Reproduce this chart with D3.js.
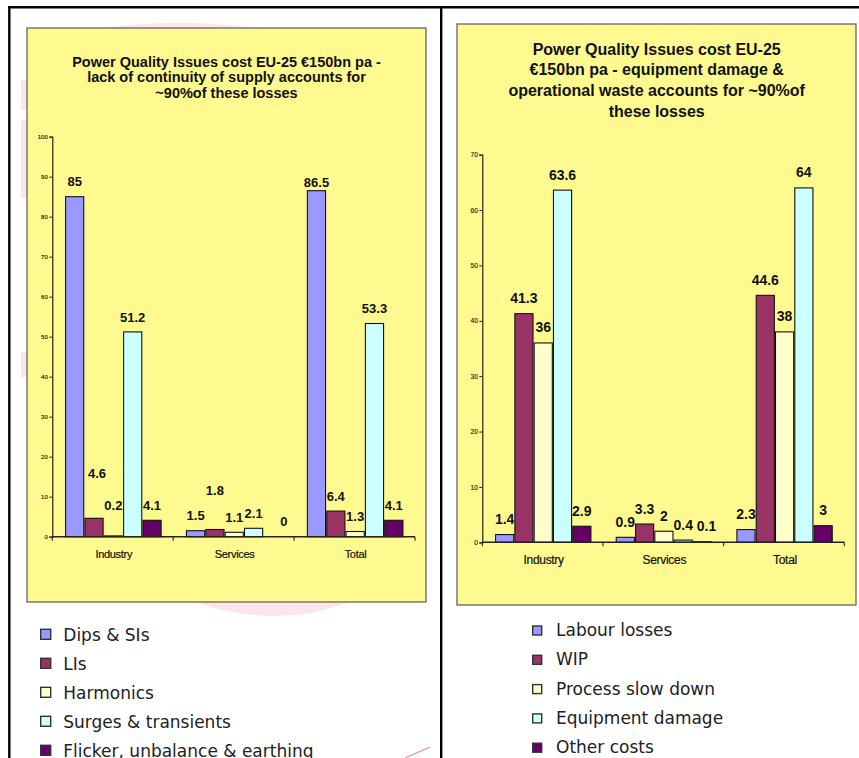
<!DOCTYPE html>
<html>
<head>
<meta charset="utf-8">
<script src="https://cdn.jsdelivr.net/npm/d3@7"></script>
<style>
  html, body { margin: 0; padding: 0; background: #fff; }
  svg { display: block; }
</style>
</head>
<body>
<svg id="chart" width="859" height="758"></svg>
<script>
// ---- data ----
const categories = ["Industry", "Services", "Total"];

// Left chart: cost by type of power quality issue (EUR bn)
const causeSeries = ["Dips & SIs", "LIs", "Harmonics", "Surges & transients", "Flicker, unbalance & earthing"];
const causeIndustry = [85, 4.6, 0.2, 51.2, 4.1];
const causeServices = [1.5, 1.8, 1.1, 2.1, 0];
const causeTotal    = [86.5, 6.4, 1.3, 53.3, 4.1];
const causeTicks = [0, 10, 20, 30, 40, 50, 60, 70, 80, 90, 100];

// Right chart: cost by type of loss (EUR bn)
const lossSeries = ["Labour losses", "WIP", "Process slow down", "Equipment damage", "Other costs"];
const lossIndustry = [1.4, 41.3, 36, 63.6, 2.9];
const lossServices = [0.9, 3.3, 2, 0.4, 0.1];
const lossTotal    = [2.3, 44.6, 38, 64, 3];
const lossTicks = [0, 10, 20, 30, 40, 50, 60, 70];

const palette = ["#9999FF", "#993366", "#FFFFCC", "#CCFFFF", "#660066"];

const svg = d3.select("#chart");
svg.append("rect").attr("width", 859).attr("height", 758).attr("fill", "#fff");

// faint pink watermark showing around the left panel
const wm = svg.append("g").attr("fill", "#FDE6EA");
wm.append("path").attr("d", "M103,28 Q180,18 255,28 Z");
wm.append("rect").attr("x", 21).attr("y", 80).attr("width", 6).attr("height", 30);
wm.append("rect").attr("x", 21).attr("y", 120).attr("width", 6).attr("height", 78);
wm.append("rect").attr("x", 21).attr("y", 352).attr("width", 6).attr("height", 25);
wm.append("path").attr("d", "M195,602 Q275,630 350,602 Z");
svg.append("line").attr("x1", 405).attr("y1", 758).attr("x2", 430).attr("y2", 747)
  .attr("stroke", "#F08A8A").attr("stroke-width", 1.2);

// page frame
const frame = svg.append("g").attr("stroke", "#000").attr("stroke-width", 2.4);
frame.append("line").attr("x1", 8).attr("y1", 7.2).attr("x2", 859).attr("y2", 7.2);
frame.append("line").attr("x1", 9.3).attr("y1", 6).attr("x2", 9.3).attr("y2", 758);
frame.append("line").attr("x1", 441.2).attr("y1", 6).attr("x2", 441.2).attr("y2", 758);

function drawPanel(cfg) {
  const g = svg.append("g");

  g.append("rect")
    .attr("x", cfg.box[0]).attr("y", cfg.box[1])
    .attr("width", cfg.box[2]).attr("height", cfg.box[3])
    .attr("fill", "#FFFA90").attr("stroke", "#666").attr("stroke-width", 1.3);

  // title
  g.append("g").selectAll("text").data(cfg.title).join("text")
    .attr("x", cfg.titleX)
    .attr("y", (d, i) => cfg.titleY + i * cfg.titleStep)
    .attr("text-anchor", "middle")
    .attr("font-family", "'Liberation Sans', Arial, sans-serif")
    .attr("font-weight", "bold")
    .attr("font-size", cfg.titleSize)
    .attr("fill", "#111")
    .text(d => d);

  const y = d3.scaleLinear().domain([0, cfg.ticks[cfg.ticks.length - 1]]).range(cfg.yRange);
  const x0 = d3.scaleBand().domain(categories).range(cfg.xRange).paddingInner(0).paddingOuter(0);
  const bw = x0.bandwidth();
  const x1 = d3.scaleBand().domain(d3.range(cfg.series.length))
    .range([bw * 0.11, bw * 0.9]).paddingInner(0.06);

  // y axis
  const yAxis = d3.axisLeft(y).tickValues(cfg.ticks).tickSize(3).tickPadding(1.5);
  const ya = g.append("g").attr("transform", `translate(${cfg.xRange[0]},0)`).call(yAxis);
  ya.select(".domain").attr("stroke", "#222").attr("stroke-width", 1.2);
  ya.selectAll(".tick line").attr("stroke", "#222");
  ya.selectAll(".tick text")
    .attr("font-family", "'Liberation Sans', Arial, sans-serif")
    .attr("font-size", cfg.tickSize).attr("fill", "#1a1a1a")
    .attr("stroke", "#1a1a1a").attr("stroke-width", 0.15);

  // bars
  const rows = categories.map((c, i) => ({ cat: c, values: cfg.values[i] }));
  const groups = g.append("g").selectAll("g").data(rows).join("g")
    .attr("transform", d => `translate(${x0(d.cat)},0)`);

  groups.selectAll("rect").data(d => d.values.map((v, k) => ({ cat: d.cat, k, v }))).join("rect")
    .attr("x", d => x1(d.k))
    .attr("y", d => y(d.v))
    .attr("width", x1.bandwidth())
    .attr("height", d => y(0) - y(d.v))
    .attr("fill", d => palette[d.k])
    .attr("stroke", "#111").attr("stroke-width", 1.1);

  // value labels
  groups.selectAll("text").data(d => d.values.map((v, k) => ({ cat: d.cat, k, v }))).join("text")
    .attr("x", d => x1(d.k) + x1.bandwidth() / 2 + ((cfg.nudge[d.cat + "|" + d.k] || [0, 0])[0]))
    .attr("y", d => y(d.v) - cfg.labelGap + ((cfg.nudge[d.cat + "|" + d.k] || [0, 0])[1]))
    .attr("text-anchor", "middle")
    .attr("font-family", "'Liberation Sans', Arial, sans-serif")
    .attr("font-weight", "bold")
    .attr("font-size", cfg.labelSize)
    .attr("fill", "#111")
    .text(d => d.v);

  // x axis with category boundaries ticked
  const xa = g.append("g");
  xa.append("line")
    .attr("x1", cfg.xRange[0]).attr("x2", cfg.xRange[1])
    .attr("y1", y(0)).attr("y2", y(0))
    .attr("stroke", "#222").attr("stroke-width", 1.4);
  const bounds = categories.map(c => x0(c)).concat([cfg.xRange[1]]);
  xa.selectAll("line.b").data(bounds).join("line").attr("class", "b")
    .attr("x1", d => d).attr("x2", d => d)
    .attr("y1", y(0)).attr("y2", y(0) + 4)
    .attr("stroke", "#222").attr("stroke-width", 1.1);
  xa.selectAll("text").data(categories).join("text")
    .attr("x", d => x0(d) + bw / 2 + 1)
    .attr("y", cfg.catY)
    .attr("text-anchor", "middle")
    .attr("font-family", "'Liberation Sans', Arial, sans-serif")
    .attr("font-size", cfg.catSize)
    .attr("letter-spacing", -0.3)
    .attr("fill", "#111")
    .attr("stroke", "#111").attr("stroke-width", 0.2)
    .text(d => d);

  // legend below the panel
  const lg = g.append("g").selectAll("g").data(cfg.series).join("g")
    .attr("transform", (d, i) => `translate(0,${cfg.legendY + i * cfg.legendStep})`);
  lg.append("rect")
    .attr("x", cfg.legendBoxX).attr("y", -cfg.legendBox - cfg.legendLift)
    .attr("width", cfg.legendBox).attr("height", cfg.legendBox)
    .attr("fill", (d, i) => palette[i])
    .attr("stroke", "#333").attr("stroke-width", 1.4);
  lg.append("text")
    .attr("x", cfg.legendTextX).attr("y", 0)
    .attr("font-family", "'DejaVu Sans', Verdana, sans-serif")
    .attr("font-size", 17)
    .attr("fill", "#222")
    .text(d => d);
}

drawPanel({
  box: [27, 28, 399, 574],
  title: ["Power Quality Issues cost EU-25 €150bn pa -",
          "lack of continuity of supply accounts for",
          "~90%of these losses"],
  titleX: 226.5, titleY: 66.5, titleStep: 15.7, titleSize: 14.5,
  series: causeSeries,
  values: [causeIndustry, causeServices, causeTotal],
  ticks: causeTicks,
  yRange: [536.7, 136.7],
  xRange: [52.3, 415],
  tickSize: 6,
  labelSize: 13, labelGap: 10.3,
  catSize: 11, catY: 558,
  nudge: { "Industry|1": [3, -30], "Industry|2": [0, -16], "Services|1": [0, -24],
           "Services|4": [11, 0], "Total|0": [0, 7] },
  legendY: 640.8, legendStep: 29, legendBox: 10, legendLift: 1.5,
  legendBoxX: 40.7, legendTextX: 63.3
});

drawPanel({
  box: [457, 24, 399, 581],
  title: ["Power Quality Issues cost EU-25",
          "€150bn pa - equipment damage &",
          "operational waste accounts for ~90%of",
          "these losses"],
  titleX: 656.7, titleY: 54.5, titleStep: 20.8, titleSize: 16,
  series: lossSeries,
  values: [lossIndustry, lossServices, lossTotal],
  ticks: lossTicks,
  yRange: [542.3, 154.7],
  xRange: [482.3, 844.3],
  tickSize: 6.5,
  labelSize: 14, labelGap: 10.5,
  catSize: 12, catY: 563.5,
  nudge: { "Services|4": [4, 0] },
  legendY: 636, legendStep: 29.3, legendBox: 9, legendLift: 1,
  legendBoxX: 532.7, legendTextX: 556
});
</script>
</body>
</html>
